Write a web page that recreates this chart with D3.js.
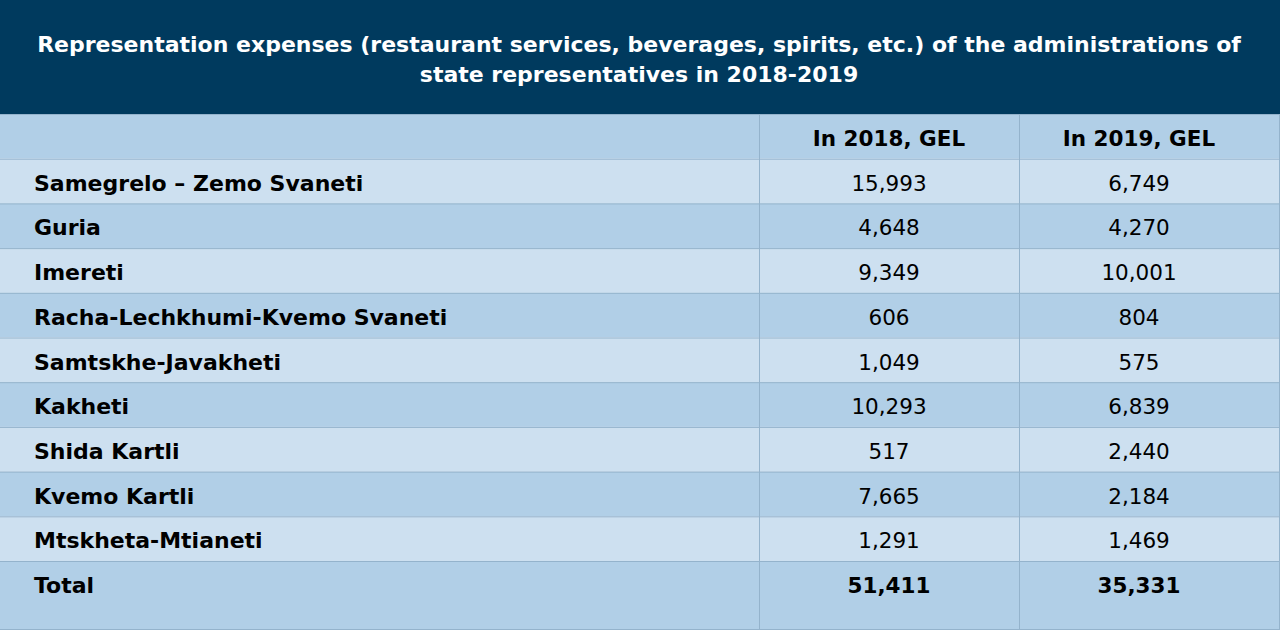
<!DOCTYPE html>
<html>
<head>
<meta charset="utf-8">
<script src="https://cdn.jsdelivr.net/npm/d3@7"></script>
<style>
  body { margin: 0; background: #fff; }
  svg { display: block; font-family: "DejaVu Sans", sans-serif; }
</style>
</head>
<body>
<svg id="chart" width="1280" height="630"></svg>
<script>
const titleLines = [
  'Representation expenses (restaurant services, beverages, spirits, etc.) of the administrations of',
  'state representatives in 2018-2019'
]
const columns = ['In 2018, GEL', 'In 2019, GEL']
const regions = [
  'Samegrelo – Zemo Svaneti', 'Guria', 'Imereti', 'Racha-Lechkhumi-Kvemo Svaneti',
  'Samtskhe-Javakheti', 'Kakheti', 'Shida Kartli', 'Kvemo Kartli', 'Mtskheta-Mtianeti'
]
const values2018 = [15993, 4648, 9349, 606, 1049, 10293, 517, 7665, 1291]
const values2019 = [6749, 4270, 10001, 804, 575, 6839, 2440, 2184, 1469]
const totals = [51411, 35331]

const W = 1280, H = 630
const headH = 114, rowH = 44.7
const dividers = [759, 1019]
const colCenter = [889, 1139]
const fmt = d3.format(',')
const svg = d3.select('#chart')

// title band
svg.append('rect').attr('width', W).attr('height', headH).attr('fill', '#003a5e')
svg.append('g').selectAll('text').data(titleLines).join('text')
  .attr('x', W / 2 - 1).attr('y', (d, i) => 52 + i * 30)
  .attr('text-anchor', 'middle').attr('fill', '#fff')
  .attr('font-size', 22).attr('font-weight', 'bold')
  .text(d => d)

// rows: header, regions, total
const rows = [{ label: '', vals: columns, kind: 'head' }]
  .concat(regions.map((r, i) => ({ label: r, vals: [fmt(values2018[i]), fmt(values2019[i])], kind: 'row' })))
  .concat([{ label: 'Total', vals: totals.map(fmt), kind: 'total' }])

const y = i => headH + i * rowH
const g = svg.append('g')

rows.forEach((row, i) => {
  const top = y(i)
  const h = row.kind === 'total' ? H - top : rowH
  const fill = (row.kind === 'row' && i % 2 === 1) ? '#cde0f0' : '#b1cfe7'
  g.append('rect').attr('x', 0).attr('y', top).attr('width', W).attr('height', h).attr('fill', fill)
  g.append('line').attr('x1', 0).attr('x2', W).attr('y1', top + 0.5).attr('y2', top + 0.5)
    .attr('stroke', '#94b3cc').attr('stroke-width', 1)
  const base = top + 32
  g.append('text').attr('x', 34).attr('y', base)
    .attr('font-size', 22).attr('font-weight', 'bold').attr('fill', '#000')
    .text(row.label)
  row.vals.forEach((v, j) => {
    g.append('text')
      .attr('x', colCenter[j]).attr('y', base)
      .attr('text-anchor', 'middle').attr('font-size', 21.5)
      .attr('font-weight', row.kind === 'row' ? 'normal' : 'bold')
      .attr('fill', '#000').text(v)
  })
})

// column dividers
g.selectAll('line.col').data([...dividers, W - 1]).join('line').attr('class', 'col')
  .attr('x1', d => d + 0.5).attr('x2', d => d + 0.5)
  .attr('y1', headH).attr('y2', H)
  .attr('stroke', '#94b3cc').attr('stroke-width', 1)
g.append('line').attr('x1', 0).attr('x2', W).attr('y1', H - 0.5).attr('y2', H - 0.5)
  .attr('stroke', '#94b3cc')
</script>
</body>
</html>
